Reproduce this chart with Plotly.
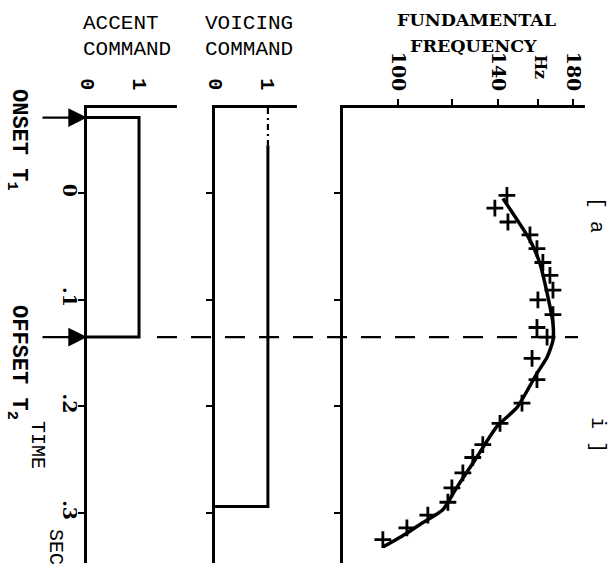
import plotly.graph_objects as go
import math

W, H = 616, 568
MT, MB = 108, 5
PH = H - MT - MB

# ---------------- data ----------------
time_ticks = [0, 0.1, 0.2, 0.3]
time_ticklabels = ["<b>0</b>", "<b>.1</b>", "<b>.2</b>", "<b>.3</b>"]

onset_t1 = -0.071
offset_t2 = 0.135

accent_time = [onset_t1, onset_t1, offset_t2, offset_t2]
accent_level = [0, 1, 1, 0]

voicing_time = [-0.045, 0.294, 0.294]
voicing_level = [1, 1, 0]
voicing_pre_time = [-0.08, -0.045]
voicing_pre_level = [1, 1]

f0_curve_time = [0.005, 0.044, 0.066, 0.0975, 0.122, 0.138, 0.154, 0.169,
                 0.201, 0.219, 0.2475, 0.276, 0.297, 0.309, 0.319, 0.332]
f0_curve_hz = [142.3, 155.8, 161.1, 165.5, 168.3, 168.3, 165.0, 159.5,
               149.2, 139.4, 130.4, 121.9, 116.3, 108.8, 103.1, 95.1]

f0_obs_time = [0.002, 0.014, 0.027, 0.039, 0.052, 0.065, 0.077, 0.091, 0.100,
               0.114, 0.126, 0.135, 0.155, 0.175, 0.197, 0.216, 0.236, 0.248,
               0.2625, 0.2765, 0.290, 0.302, 0.314, 0.325]
f0_obs_hz = [144.2, 138.5, 144.7, 155.8, 159.5, 162.7, 166.6, 168.3, 160.0,
             168.3, 159.5, 165.0, 156.9, 159.5, 151.7, 140.9, 133.0, 128.6,
             124.4, 119.9, 118.3, 110.6, 103.1, 95.1]

freq_ticks = [100, 120, 140, 160, 180]
freq_ticklabels = ["<b>100</b>", "", "<b>140</b>", "", "<b>180</b>"]
command_ticks = [0, 1]
command_ticklabels = ["<b>0</b>", "<b>1</b>"]

TIME_RANGE = [0.347, -0.08]
F0_RANGE = [math.log10(83.2), math.log10(187.4)]


def dx(px):
    return px / W


def py(pix):
    return (H - MB - pix) / PH


MONO = "Liberation Mono"
SERIF = "DejaVu Serif"
BLK = "black"

fig = go.Figure()

fig.add_trace(go.Scatter(x=accent_level, y=accent_time, xaxis="x", yaxis="y",
                         mode="lines", line=dict(color=BLK, width=3),
                         cliponaxis=False, showlegend=False))
fig.add_trace(go.Scatter(x=voicing_level, y=voicing_time, xaxis="x2", yaxis="y2",
                         mode="lines", line=dict(color=BLK, width=3),
                         cliponaxis=False, showlegend=False))
fig.add_trace(go.Scatter(x=voicing_pre_level, y=voicing_pre_time, xaxis="x2", yaxis="y2",
                         mode="lines", line=dict(color=BLK, width=2.2, dash="6px,4px,2px,4px"),
                         cliponaxis=False, showlegend=False))
fig.add_trace(go.Scatter(x=f0_curve_hz, y=f0_curve_time, xaxis="x3", yaxis="y3",
                         mode="lines", line=dict(color=BLK, width=3.5, shape="spline", smoothing=0.6),
                         showlegend=False))
fig.add_trace(go.Scatter(x=f0_obs_hz, y=f0_obs_time, xaxis="x3", yaxis="y3",
                         mode="markers",
                         marker=dict(symbol="cross-thin", size=12, color=BLK,
                                     line=dict(color=BLK, width=2.8)),
                         showlegend=False))

common_y = dict(range=TIME_RANGE, tickvals=time_ticks, showgrid=False, zeroline=False,
                showline=True, linecolor=BLK, linewidth=2.5, ticks="outside",
                ticklen=6, tickwidth=2, tickcolor=BLK, automargin=False, fixedrange=True)

fig.update_layout(
    width=W, height=H, template="none",
    paper_bgcolor="white", plot_bgcolor="rgba(0,0,0,0)",
    margin=dict(l=0, r=0, t=MT, b=MB),
    showlegend=False,
    xaxis=dict(domain=[dx(87), dx(177)], range=[0, 1.73], anchor="y", side="top",
               tickvals=command_ticks, ticktext=command_ticklabels, tickangle=90,
               ticks="", ticklabelstandoff=8, showgrid=False, zeroline=False,
               showline=True, linecolor=BLK, linewidth=2.5, automargin=False,
               tickfont=dict(family=MONO, size=20, color=BLK)),
    xaxis2=dict(domain=[dx(215), dx(297)], range=[0, 1.55], anchor="y2", side="top",
                tickvals=command_ticks, ticktext=command_ticklabels, tickangle=90,
                ticks="", ticklabelstandoff=8, showgrid=False, zeroline=False,
                showline=True, linecolor=BLK, linewidth=2.5, automargin=False,
                tickfont=dict(family=MONO, size=20, color=BLK)),
    xaxis3=dict(domain=[dx(343), dx(585)], range=F0_RANGE, type="log", anchor="y3",
                side="top", tickvals=freq_ticks, ticktext=freq_ticklabels, tickangle=90,
                ticks="outside", ticklen=6, tickwidth=2, tickcolor=BLK,
                ticklabelstandoff=1, showgrid=False, zeroline=False,
                showline=True, linecolor=BLK, linewidth=3, automargin=False,
                tickfont=dict(family=SERIF, size=19, color=BLK)),
    yaxis=dict(anchor="x", ticktext=time_ticklabels, tickangle=90, ticklabelstandoff=-8,
               tickfont=dict(family=SERIF, size=19, color=BLK), **common_y),
    yaxis2=dict(anchor="x2", showticklabels=False, **common_y),
    yaxis3=dict(anchor="x3", showticklabels=False, **common_y),
)
fig.update_layout(yaxis3=dict(linewidth=3))

# dashed offset line
fig.add_shape(type="line", xref="paper", yref="y", x0=dx(157), x1=dx(578),
              y0=offset_t2, y1=offset_t2, line=dict(color=BLK, width=2.2, dash="20px,14px"))

# onset / offset arrows
for t in (onset_t1, offset_t2):
    fig.add_annotation(x=dx(87), y=t, xref="paper", yref="y", text="", showarrow=True,
                       ax=-46, ay=0, axref="pixel", ayref="pixel", arrowhead=2,
                       arrowsize=1.7, arrowwidth=2.2, arrowcolor=BLK, standoff=0)


def label(text, xp, yp, size, family=MONO, angle=0, xanchor="center", yanchor="middle"):
    fig.add_annotation(x=dx(xp), y=py(yp), xref="paper", yref="paper", text=text,
                       showarrow=False, textangle=angle, xanchor=xanchor, yanchor=yanchor,
                       font=dict(family=family, size=size, color=BLK))


label("<b>ONSET T<sub>1</sub></b>", 17, 140, 22, angle=90)
label("<b>OFFSET T<sub>2</sub></b>", 17, 362, 22, angle=90)
label("TIME", 38, 445, 20, angle=90)
label("SEC", 56, 547, 20, angle=90)
label("ACCENT", 81, 23, 21, xanchor="left")
label("COMMAND", 81, 49, 21, xanchor="left")
label("VOICING", 203, 23, 21, xanchor="left")
label("COMMAND", 203, 49, 21, xanchor="left")
label("<b>FUNDAMENTAL</b>", 476, 20, 17.5, family=SERIF)
label("<b>FREQUENCY</b>", 473, 46, 17.5, family=SERIF)
label("<b>Hz</b>", 541, 67, 16, family=SERIF, angle=90)
label("[ a", 597, 215, 20, angle=90)
label("i ]", 598, 435, 20, angle=90)

fig.write_html("out.html")
